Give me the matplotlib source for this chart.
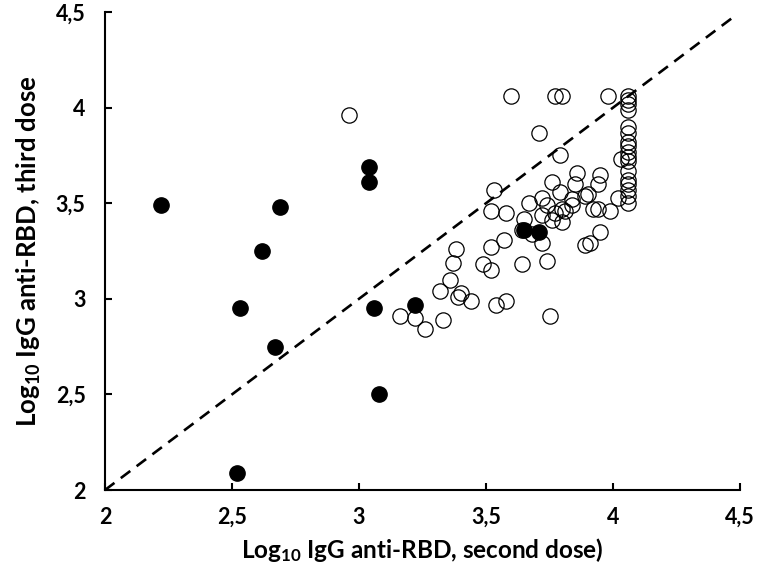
import matplotlib
matplotlib.use("Agg")
import matplotlib.pyplot as plt

plt.rcParams['font.family'] = ['Lato', 'DejaVu Sans']
plt.rcParams['mathtext.fontset'] = 'custom'
plt.rcParams['mathtext.bf'] = 'Lato:bold'
plt.rcParams['mathtext.rm'] = 'Lato:bold'
plt.rcParams['mathtext.default'] = 'bf'

# filled circles
filled_x = [2.22, 2.52, 2.53, 2.62, 2.67, 2.69, 3.04, 3.04, 3.06, 3.08, 3.22, 3.65, 3.71]
filled_y = [3.49, 2.09, 2.95, 3.25, 2.75, 3.48, 3.61, 3.69, 2.95, 2.50, 2.97, 3.36, 3.35]

# open circles
open_x = [2.96, 3.60, 3.77, 3.80, 3.98, 3.71, 3.79, 4.03,
          3.86, 3.95, 3.76, 3.85, 3.94, 3.79, 3.89, 3.90, 3.53,
          3.72, 3.67, 3.74, 3.84, 3.84, 4.02, 3.52, 3.58,
          3.80, 3.81, 3.77, 3.92, 3.94, 3.99, 3.65, 3.76, 3.80,
          3.72, 3.64, 3.68, 3.72, 3.95, 3.57, 3.52, 3.38, 3.89,
          3.91, 3.37, 3.49, 3.52, 3.64, 3.74, 3.36, 3.32, 3.40,
          3.39, 3.44, 3.54, 3.58, 3.16, 3.22, 3.26, 3.33, 3.75]
open_y = [3.96, 4.06, 4.06, 4.06, 4.06, 3.87, 3.75, 3.73,
          3.66, 3.65, 3.61, 3.60, 3.60, 3.56, 3.54, 3.55, 3.57,
          3.53, 3.50, 3.49, 3.52, 3.49, 3.53, 3.46, 3.45,
          3.47, 3.46, 3.45, 3.47, 3.47, 3.46, 3.42, 3.41, 3.40,
          3.44, 3.36, 3.34, 3.29, 3.35, 3.31, 3.27, 3.26, 3.28,
          3.29, 3.19, 3.18, 3.15, 3.18, 3.20, 3.10, 3.04, 3.03,
          3.01, 2.99, 2.97, 2.99, 2.91, 2.90, 2.84, 2.89, 2.91]

# values capped at 4.06 on the x axis
column_x = [4.06] * 17
column_y = [4.06, 4.04, 4.02, 3.99, 3.90, 3.87, 3.82, 3.80, 3.77,
            3.74, 3.72, 3.67, 3.62, 3.60, 3.57, 3.54, 3.50]

ticks = [2, 2.5, 3, 3.5, 4, 4.5]
tick_labels = ['2', '2,5', '3', '3,5', '4', '4,5']

fig = plt.figure(figsize=(7.59, 5.74), dpi=100)
ax = fig.add_axes([0.1383, 0.1463, 0.8367, 0.8327])

# identity line
ax.plot([2, 4.48], [2, 4.48], color='black', linestyle=(0, (4.5, 3)), linewidth=1.9, zorder=1)

ax.plot(open_x + column_x, open_y + column_y, 'o', markersize=11,
        markerfacecolor='none', markeredgecolor='black', markeredgewidth=0.9, zorder=2)
ax.plot(filled_x, filled_y, 'o', markersize=11, color='black', zorder=3)

ax.set_xlim(2, 4.5)
ax.set_ylim(2, 4.5)
ax.set_xticks(ticks)
ax.set_xticklabels(tick_labels)
ax.set_yticks(ticks)
ax.set_yticklabels(tick_labels)

for s in ['top', 'right']:
    ax.spines[s].set_visible(False)
for s in ['left', 'bottom']:
    ax.spines[s].set_linewidth(1.5)

ax.tick_params(axis='both', direction='in', length=5, width=1.5, labelsize=15.5)
ax.tick_params(axis='x', pad=12)
ax.tick_params(axis='y', pad=14)
for lab in ax.get_xticklabels() + ax.get_yticklabels():
    lab.set_fontweight('bold')

ax.set_xlabel('Log$_{10}$ IgG anti-RBD, second dose)', fontsize=17.5, fontweight='bold', labelpad=6)
ax.set_ylabel('Log$_{10}$ IgG anti-RBD, third dose', fontsize=18.5, fontweight='bold', labelpad=9)

fig.savefig('out.png', dpi=100)
